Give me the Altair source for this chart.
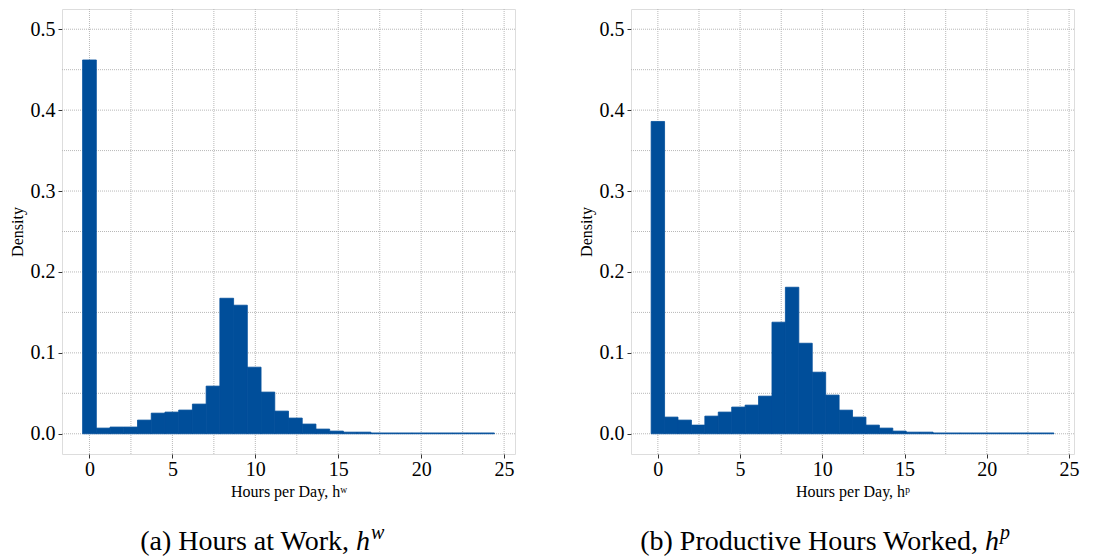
import altair as alt
import pandas as pd

# ---- data ----
n_bins = 30
bin_width_a = 24.0 / 29      # bins centred at 0, w, 2w, ... (hours at work)
bin_width_b = 23.67 / 29     # productive hours worked

density_a = [0.462, 0.0070, 0.0083, 0.0083, 0.0169, 0.0255, 0.0268, 0.0293, 0.0367, 0.0589,
             0.1675, 0.1589, 0.0823, 0.0515, 0.0280, 0.0194, 0.0120, 0.0058, 0.0033, 0.0020,
             0.0020, 0.0010, 0.0010, 0.0010, 0.0010, 0.0010, 0.0010, 0.0010, 0.0010, 0.0010]
density_b = [0.386, 0.0206, 0.0169, 0.0107, 0.0218, 0.0268, 0.0330, 0.0354, 0.0465, 0.1379,
             0.1811, 0.1119, 0.0761, 0.0478, 0.0292, 0.0206, 0.0107, 0.0070, 0.0033, 0.0020,
             0.0020, 0.0010, 0.0010, 0.0010, 0.0010, 0.0010, 0.0010, 0.0010, 0.0010, 0.0010]

x_ticks = [0, 5, 10, 15, 20, 25]
x_grid = [0, 2.5, 5, 7.5, 10, 12.5, 15, 17.5, 20, 22.5, 25]
y_ticks = [0.0, 0.1, 0.2, 0.3, 0.4, 0.5]
y_grid = [0.0, 0.05, 0.1, 0.15, 0.2, 0.25, 0.3, 0.35, 0.4, 0.45, 0.5]

x_titles = ["Hours per Day, hʷ", "Hours per Day, hᵖ"]
caption_main = ["(a) Hours at Work,", "(b) Productive Hours Worked,"]
caption_sym = ["h", "h"]
caption_sup = ["w", "p"]

FONT = "Liberation Serif"
BAR = "#004E9A"
GRID = "#b8b8b8"
CAP_SIZE = 28


def panel(dens, bw, xdom, xtitle, cap_main, cap_sym, cap_sup, cap_end, width):
    df = pd.DataFrame({"center": [i * bw for i in range(n_bins)], "density": dens})
    df["x0"] = df["center"] - bw / 2
    df["x1"] = df["center"] + bw / 2

    xs = alt.Scale(domain=xdom, nice=False, zero=False)
    ys = alt.Scale(domain=[-0.025, 0.525], nice=False, zero=False)

    xaxis = alt.Axis(values=x_ticks, title=xtitle, grid=False, domain=False,
                     tickSize=4, tickColor="#333333", tickWidth=1,
                     labelFont=FONT, labelFontSize=20, labelColor="#000000", labelPadding=1,
                     titleFont=FONT, titleFontSize=16, titleFontWeight="normal",
                     titleColor="#000000", titlePadding=4)
    yaxis = alt.Axis(values=y_ticks, format=".1f", title="Density", grid=False, domain=False,
                     tickSize=4, tickColor="#333333", tickWidth=1,
                     labelFont=FONT, labelFontSize=20, labelColor="#000000", labelPadding=3,
                     titleFont=FONT, titleFontSize=16, titleFontWeight="normal",
                     titleColor="#000000", titlePadding=5)

    vgrid = alt.Chart(pd.DataFrame({"x0": x_grid})).mark_rule(
        color=GRID, strokeDash=[1, 1], strokeWidth=1
    ).encode(x=alt.X("x0:Q", scale=xs, axis=xaxis))
    hgrid = alt.Chart(pd.DataFrame({"density": y_grid})).mark_rule(
        color=GRID, strokeDash=[1, 1], strokeWidth=1
    ).encode(y=alt.Y("density:Q", scale=ys, axis=yaxis))
    bars = alt.Chart(df).mark_rect(color=BAR, stroke=BAR, strokeWidth=0.8).encode(
        x=alt.X("x0:Q", scale=xs, axis=xaxis),
        x2="x1:Q",
        y=alt.Y("density:Q", scale=ys, axis=yaxis),
        y2=alt.datum(0),
    )

    # caption below the panel: roman text, italic symbol, italic superscript
    base_y = 541
    cap1 = alt.Chart(pd.DataFrame({"t": [cap_main]})).mark_text(
        font=FONT, fontSize=CAP_SIZE, align="right", baseline="alphabetic", color="#000000"
    ).encode(text="t:N", x=alt.value(cap_end), y=alt.value(base_y))
    cap2 = alt.Chart(pd.DataFrame({"t": [cap_sym]})).mark_text(
        font=FONT, fontSize=CAP_SIZE, fontStyle="italic", align="left",
        baseline="alphabetic", color="#000000"
    ).encode(text="t:N", x=alt.value(cap_end + 7), y=alt.value(base_y))
    cap3 = alt.Chart(pd.DataFrame({"t": [cap_sup]})).mark_text(
        font=FONT, fontSize=20, fontStyle="italic", align="left",
        baseline="alphabetic", color="#000000"
    ).encode(text="t:N", x=alt.value(cap_end + 22), y=alt.value(base_y - 11))

    return alt.layer(vgrid, hgrid, bars, cap1, cap2, cap3).properties(width=width, height=445)


left = panel(density_a, bin_width_a, [-1.656, 25.656], x_titles[0],
             caption_main[0], caption_sym[0], caption_sup[0], 287, 453)
right = panel(density_b, bin_width_b, [-1.633, 25.3], x_titles[1],
              caption_main[1], caption_sym[1], caption_sup[1], 347, 443)

chart = alt.hconcat(left, right, spacing=61).properties(
    padding={"left": 8, "top": 8, "right": 5, "bottom": 5}
).configure_view(stroke=None).configure(background="white")

chart.save("out.html", embed_options={"renderer": "svg", "actions": False})
